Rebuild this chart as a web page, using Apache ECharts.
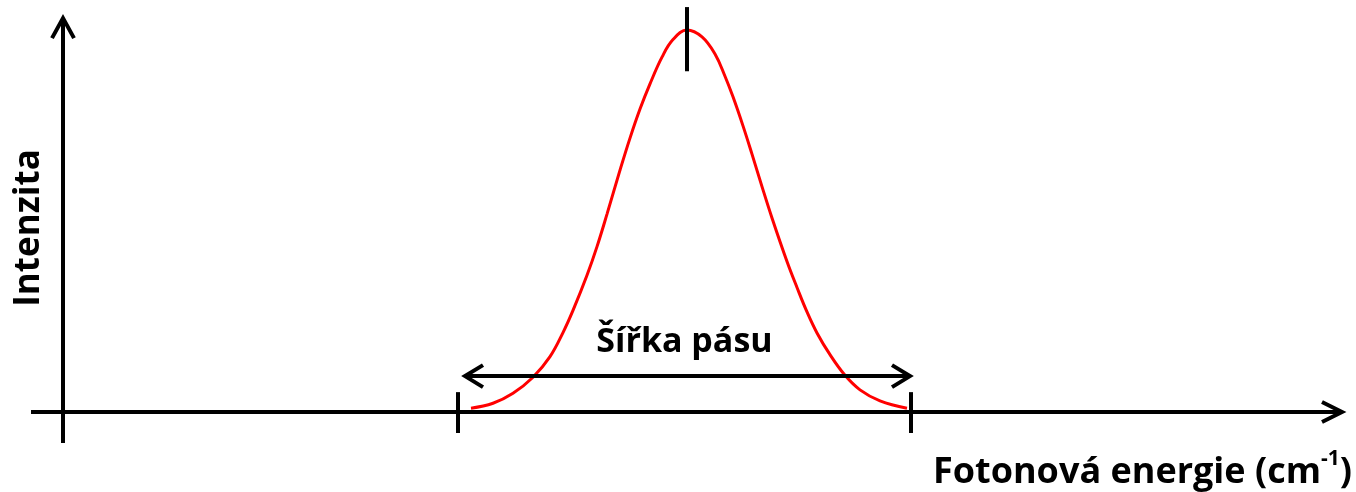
<!DOCTYPE html>
<html>
<head>
<meta charset="utf-8">
<script src="https://cdn.jsdelivr.net/npm/echarts@6/dist/echarts.min.js"></script>
<style>
  html, body { margin: 0; padding: 0; background: #ffffff; }
  #chart { width: 1356px; height: 492px; }
</style>
</head>
<body>
<div id="chart"></div>
<script>
// Band profile: photon energy (arbitrary units, 0 at the intensity axis) vs. normalised intensity
const energy = [408, 430, 450, 470, 487, 500, 510, 524, 534, 544, 557, 567, 577, 587, 599, 610, 624,
                639, 652, 662, 670, 680, 689, 699, 709, 724, 734, 744, 754, 767, 782, 797, 817, 844];
const intensity = [0.010, 0.023, 0.049, 0.091, 0.145, 0.208, 0.266, 0.358, 0.433, 0.518, 0.633, 0.717,
                   0.793, 0.859, 0.929, 0.975, 1.000, 0.982, 0.937, 0.879, 0.825, 0.749, 0.675, 0.590,
                   0.508, 0.394, 0.326, 0.262, 0.207, 0.150, 0.096, 0.058, 0.029, 0.010];

// Schematic elements
const energyAxisSpan = [-32, 1279];       // horizontal axis, arrow at the right end
const intensityAxisSpan = [-0.081, 1.031]; // vertical axis, arrow at the top
const peakEnergy = 624;
const peakTickSpan = [0.892, 1.060];
const bandEdges = [395, 848];
const edgeTickSpan = [-0.055, 0.052];
const bandWidthSpan = [402, 847];          // double arrow showing the band width
const bandWidthLevel = 0.094;

const bandWidthLabel = 'Šířka pásu';
const intensityTitle = 'Intenzita';
const energyTitle = 'Fotonová energie (cm';
const energyUnitPower = '-1';

const FONT = '"Open Sans", Lato, sans-serif';
const INK = '#000000';

const chart = echarts.init(document.getElementById('chart'), null, { renderer: 'canvas' });

function chevron(tip, dir, back, half) {
  const nx = -dir[1], ny = dir[0];
  return {
    type: 'polyline',
    shape: { points: [
      [tip[0] - dir[0] * back + nx * half, tip[1] - dir[1] * back + ny * half],
      [tip[0], tip[1]],
      [tip[0] - dir[0] * back - nx * half, tip[1] - dir[1] * back - ny * half]
    ] },
    style: { stroke: INK, lineWidth: 4, fill: null, lineJoin: 'miter', lineCap: 'butt' }
  };
}

function seg(a, b, w) {
  return {
    type: 'line',
    shape: { x1: a[0], y1: a[1], x2: b[0], y2: b[1] },
    style: { stroke: INK, lineWidth: w || 4 }
  };
}

function renderDiagram(params, api) {
  const children = [];
  // energy axis
  const xa0 = api.coord([energyAxisSpan[0], 0]);
  const xa1 = api.coord([energyAxisSpan[1], 0]);
  children.push(seg(xa0, [xa1[0] - 2, xa1[1]]));
  children.push(chevron(xa1, [1, 0], 20, 10));
  // intensity axis
  const ya0 = api.coord([0, intensityAxisSpan[0]]);
  const ya1 = api.coord([0, intensityAxisSpan[1]]);
  children.push(seg(ya0, [ya1[0], ya1[1] + 2]));
  children.push(chevron(ya1, [0, -1], 20, 11));
  // peak position tick
  children.push(seg(api.coord([peakEnergy, peakTickSpan[0]]), api.coord([peakEnergy, peakTickSpan[1]])));
  // band edge ticks
  bandEdges.forEach(function (e) {
    children.push(seg(api.coord([e, edgeTickSpan[0]]), api.coord([e, edgeTickSpan[1]])));
  });
  // band width double arrow
  const w0 = api.coord([bandWidthSpan[0], bandWidthLevel]);
  const w1 = api.coord([bandWidthSpan[1], bandWidthLevel]);
  children.push(seg([w0[0] + 2, w0[1]], [w1[0] - 2, w1[1]]));
  children.push(chevron(w0, [-1, 0], 18, 11));
  children.push(chevron(w1, [1, 0], 18, 11));
  // band width label
  const mid = api.coord([(bandWidthSpan[0] + bandWidthSpan[1]) / 2, bandWidthLevel]);
  children.push({
    type: 'text',
    style: {
      text: bandWidthLabel,
      x: mid[0] - 3,
      y: mid[1] - 34,
      textAlign: 'center',
      textVerticalAlign: 'middle',
      fontFamily: FONT,
      fontWeight: 'bold',
      fontSize: 34,
      fill: INK
    }
  });
  return { type: 'group', children: children };
}

chart.setOption({
  animation: false,
  backgroundColor: '#ffffff',
  grid: { left: 63, right: 14, top: 30, bottom: 80 },
  xAxis: { type: 'value', min: 0, max: energyAxisSpan[1], show: false },
  yAxis: { type: 'value', min: 0, max: 1, show: false },
  series: [
    {
      type: 'line',
      data: energy.map(function (e, i) { return [e, intensity[i]]; }),
      smooth: 0.4,
      showSymbol: false,
      clip: false,
      lineStyle: { color: '#ff0000', width: 3 },
      z: 2
    },
    {
      type: 'custom',
      data: [[0, 0]],
      renderItem: renderDiagram,
      clip: false,
      silent: true,
      z: 3
    }
  ],
  graphic: [
    {
      type: 'text',
      x: 29,
      y: 228,
      rotation: Math.PI / 2,
      style: {
        text: intensityTitle,
        textAlign: 'center',
        textVerticalAlign: 'middle',
        fontFamily: FONT,
        fontWeight: 'bold',
        fontSize: 35,
        fill: INK
      }
    },
    {
      type: 'text',
      x: 1352,
      y: 445,
      style: {
        text: '{m|' + energyTitle + '}{s|' + energyUnitPower + '}{m|)}',
        textAlign: 'right',
        rich: {
          m: { fontFamily: FONT, fontWeight: 'bold', fontSize: 36, fill: INK, lineHeight: 46, verticalAlign: 'bottom' },
          s: { fontFamily: FONT, fontWeight: 'bold', fontSize: 21, fill: INK, lineHeight: 46, verticalAlign: 'top', padding: [4, 0, 0, 0] }
        }
      }
    }
  ]
});
</script>
</body>
</html>
